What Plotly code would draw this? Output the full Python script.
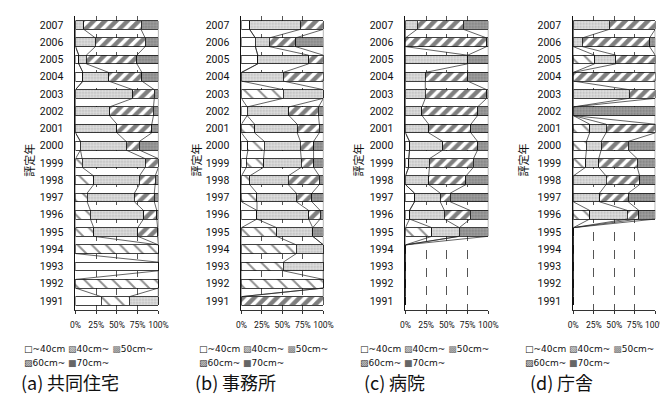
import plotly.graph_objects as go

years = list(range(1991, 2008))
series_names = ["~40cm", "40cm~", "50cm~", "60cm~", "70cm~"]
x_tick_vals = [0, 25, 50, 75, 100]
x_tick_text = ["0%", "25%", "50%", "75%", "100%"]
panel_titles = ["(a)\u2009共同住宅", "(b)\u2009事務所", "(c)\u2009病院", "(d)\u2009庁舎"]
y_title = "評定年"

# values by year 1991 ... 2007 (percent)
# (a) 共同住宅
a_u40 = [31, 0, 100, 0, 0, 0, 0, 0, 0, 6, 0, 0, 0, 9, 4, 0, 0]
a_40 = [34, 100, 0, 100, 22, 18, 14, 22, 8, 0, 0, 0, 0, 0, 0, 0, 0]
a_50 = [35, 0, 0, 0, 53, 64, 57, 55, 76, 55, 50, 41, 69, 31, 9, 24, 10]
a_60 = [0, 0, 0, 0, 24, 16, 24, 19, 16, 16, 42, 53, 26, 40, 61, 60, 69]
a_70 = [0, 0, 0, 0, 1, 2, 5, 4, 0, 23, 8, 6, 5, 20, 26, 16, 21]
# (b) 事務所
b_u40 = [0, 0, 0, 0, 0, 19, 0, 0, 6, 8, 0, 7, 0, 0, 20, 17, 10]
b_40 = [0, 100, 51, 67, 43, 0, 19, 10, 21, 20, 16, 0, 51, 0, 0, 0, 0]
b_50 = [0, 0, 49, 33, 44, 63, 48, 47, 46, 44, 52, 51, 49, 51, 62, 17, 62]
b_60 = [100, 0, 0, 0, 0, 14, 19, 38, 15, 16, 27, 36, 0, 49, 18, 32, 28]
b_70 = [0, 0, 0, 0, 13, 4, 14, 5, 12, 12, 5, 6, 0, 0, 0, 34, 0]
# (c) 病院
c_u40 = [0, 0, 0, 0, 0, 5, 11, 0, 4, 5, 0, 0, 0, 0, 0, 0, 0]
c_40 = [0, 0, 0, 0, 32, 0, 0, 0, 0, 0, 0, 0, 0, 0, 0, 0, 0]
c_50 = [0, 0, 0, 0, 33, 42, 31, 28, 25, 40, 28, 20, 24, 24, 75, 0, 14]
c_60 = [0, 0, 0, 0, 0, 31, 12, 45, 53, 42, 51, 67, 74, 51, 0, 98, 56]
c_70 = [0, 0, 0, 0, 35, 22, 46, 27, 18, 13, 21, 13, 2, 25, 25, 2, 30]
# (d) 庁舎
d_u40 = [0, 0, 0, 0, 0, 0, 0, 0, 0, 0, 0, 0, 0, 0, 0, 0, 0]
d_40 = [0, 0, 0, 0, 0, 20, 0, 0, 15, 16, 20, 0, 0, 0, 26, 0, 0]
d_50 = [0, 0, 0, 0, 0, 46, 32, 40, 16, 18, 20, 0, 68, 0, 26, 11, 44]
d_60 = [0, 0, 0, 0, 0, 14, 35, 41, 47, 33, 60, 0, 32, 100, 48, 82, 56]
d_70 = [0, 0, 0, 0, 0, 20, 33, 19, 22, 33, 0, 100, 0, 0, 0, 7, 0]

panels = [
    [a_u40, a_40, a_50, a_60, a_70],
    [b_u40, b_40, b_50, b_60, b_70],
    [c_u40, c_40, c_50, c_60, c_70],
    [d_u40, d_40, d_50, d_60, d_70],
]

W, H = 668, 396
px_x = [(63, 148), (233, 317), (401, 486), (573, 657)]
y_top, y_bot = 8.4, 301.6
bar_w = 0.5

styles = [
    dict(color="white", pattern=None),
    dict(color="white", pattern=dict(shape="\\", fgcolor="#222", bgcolor="white", size=10, solidity=0.2)),
    dict(color="#d9d9d9", pattern=dict(shape=".", fgcolor="#8a8a8a", bgcolor="#e0e0e0", size=3, solidity=0.35)),
    dict(color="white", pattern=dict(shape="/", fgcolor="#000", bgcolor="white", size=8, solidity=0.55)),
    dict(color="#9a9a9a", pattern=dict(shape=".", fgcolor="#555", bgcolor="#a0a0a0", size=3, solidity=0.4)),
]

fig = go.Figure()
for p, data in enumerate(panels):
    sfx = "" if p == 0 else str(p + 1)
    xa, ya = "x" + sfx, "y" + sfx
    for k, vals in enumerate(data):
        st = styles[k]
        marker = dict(color=st["color"], line=dict(color="#111", width=0.8))
        if st["pattern"]:
            marker["pattern"] = st["pattern"]
        fig.add_trace(go.Bar(
            x=vals, y=years, orientation="h", width=bar_w, marker=marker,
            name=series_names[k], showlegend=False, xaxis=xa, yaxis=ya,
        ))
    # series lines connecting cumulative boundaries of adjacent bars
    cum = []
    run = [0] * len(years)
    for vals in data:
        run = [r + v for r, v in zip(run, vals)]
        cum.append(run)
    for k in range(len(data)):
        xs, ys = [], []
        for i in range(len(years) - 1, 0, -1):
            xs += [cum[k][i], cum[k][i - 1], None]
            ys += [years[i] - bar_w / 2, years[i - 1] + bar_w / 2, None]
        fig.add_trace(go.Scatter(x=xs, y=ys, mode="lines", line=dict(color="#222", width=0.7),
                                 showlegend=False, hoverinfo="skip", xaxis=xa, yaxis=ya))

layout = dict(
    width=W, height=H, autosize=False, barmode="stack",
    margin=dict(l=0, r=0, t=0, b=0),
    paper_bgcolor="white", plot_bgcolor="white",
    font=dict(family="Roboto", color="#111"),
)
for p in range(4):
    sfx = "" if p == 0 else str(p + 1)
    x0, x1 = px_x[p]
    layout["xaxis" + sfx] = dict(
        domain=[x0 / W, x1 / W], range=[0, 100], anchor="y" + sfx,
        tickvals=x_tick_vals, ticktext=x_tick_text, tickfont=dict(size=8.5, family="Roboto"),
        tickangle=0,
        showgrid=True, gridcolor="#555", griddash="dash", gridwidth=0.7,
        showline=True, linecolor="#333", linewidth=0.8, ticks="outside", ticklen=3, tickcolor="#333",
        ticklabelstandoff=4, zeroline=False, fixedrange=True,
    )
    layout["yaxis" + sfx] = dict(
        domain=[1 - y_bot / H, 1 - y_top / H], range=[1990.5, 2007.5], anchor="x" + sfx,
        tickvals=years, ticktext=[str(y) for y in years], tickfont=dict(size=10.5, family="Roboto"),
        showgrid=False, showline=True, linecolor="#111", linewidth=1, ticks="",
        ticklabelstandoff=9, zeroline=False, fixedrange=True,
    )
fig.update_layout(**layout)

ytitle_x = [15, 186, 352, 522]
legend_x = [8, 187, 352, 522]
title_x = [5, 183, 357, 527]
ann = []
for p in range(4):
    ann.append(dict(text=y_title, textangle=-90, x=ytitle_x[p] / W, y=1 - 152 / H, xref="paper", yref="paper",
                    xanchor="center", yanchor="middle", showarrow=False,
                    font=dict(size=11, family="Noto Sans CJK JP")))
    row1 = ("□" + series_names[0] + " <span style='color:#555'>▧</span>" + series_names[1]
            + " <span style='color:#777'>▩</span>" + series_names[2])
    row2 = ("<span style='color:#333'>▨</span>" + series_names[3]
            + " <span style='color:#666'>■</span>" + series_names[4])
    ann.append(dict(text=row1, x=legend_x[p] / W, y=1 - 341 / H, xref="paper", yref="paper",
                    xanchor="left", yanchor="middle", showarrow=False,
                    font=dict(size=9, family="DejaVu Sans")))
    ann.append(dict(text=row2, x=legend_x[p] / W, y=1 - 355 / H, xref="paper", yref="paper",
                    xanchor="left", yanchor="middle", showarrow=False,
                    font=dict(size=9, family="DejaVu Sans")))
    ann.append(dict(text=panel_titles[p], x=title_x[p] / W, y=1 - 374 / H, xref="paper", yref="paper",
                    xanchor="left", yanchor="middle", showarrow=False,
                    font=dict(size=18, family="Noto Sans CJK JP")))
fig.update_layout(annotations=ann)

fig.write_html("out.html")
